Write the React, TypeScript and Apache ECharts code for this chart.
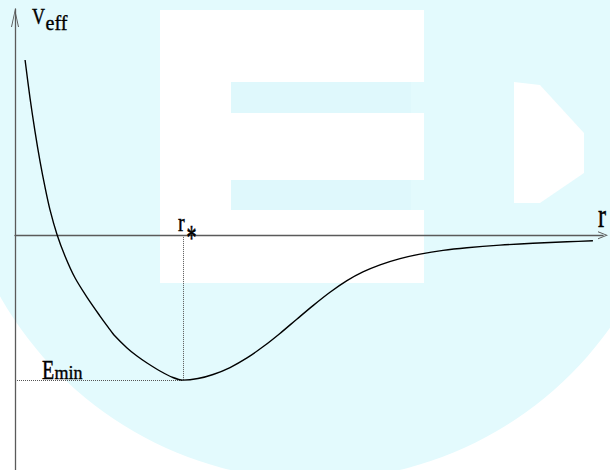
import React, { useEffect, useRef } from "react";
import * as echarts from "echarts";

// Effective potential curve, r in units of r*, V in units of |Emin|
const rValues = [
  0.06, 0.089, 0.119, 0.149, 0.179, 0.208, 0.25, 0.298, 0.357, 0.429, 0.506, 0.554, 0.595, 0.667, 0.726,
  0.786, 0.863, 0.94, 1.0, 1.089, 1.179, 1.28, 1.381, 1.482, 1.577, 1.679, 1.774, 1.875, 1.976, 2.071,
  2.173, 2.292, 2.411, 2.548, 2.69, 2.887, 3.083, 3.286, 3.44,
];
const vValues = [
  1.208, 0.949, 0.716, 0.509, 0.329, 0.176, 0.005, -0.145, -0.294, -0.429, -0.558, -0.634, -0.696, -0.778, -0.834,
  -0.882, -0.937, -0.982, -1.0, -0.989, -0.961, -0.913, -0.847, -0.765, -0.678, -0.578, -0.486, -0.394, -0.314, -0.254,
  -0.205, -0.162, -0.131, -0.105, -0.087, -0.069, -0.056, -0.046, -0.039,
];
const rStar = 1;
const eMin = -1;
const xMax = 3.5;
const yMin = -1.62;
const yMax = 1.56;

const FAMILY = "Liberation Serif";
const AXIS_COLOR = "#5a5a5a";
const CYAN = "#e3fafd";
const CYAN_BAR = "#dff8fc";

export default function App() {
  const ref = useRef<HTMLDivElement>(null);

  useEffect(() => {
    if (!ref.current) return;
    const chart = echarts.init(ref.current, null, { renderer: "svg" });
    const data = rValues.map((r, i) => [r, vValues[i]]);

    const txt = (text: string, x: number, y: number, size: number, scaleY: number) => ({
      type: "text",
      x,
      y,
      scaleY,
      silent: true,
      z: 50,
      style: {
        text,
        fontSize: size,
        fontFamily: FAMILY,
        fill: "#000",
        stroke: "#000",
        lineWidth: 0.35,
      },
    });

    chart.setOption({
      animation: false,
      backgroundColor: "#ffffff",
      textStyle: { fontFamily: FAMILY },
      grid: { left: 15, right: 7, top: 9, bottom: 0, containLabel: false },
      xAxis: {
        type: "value",
        min: 0,
        max: xMax,
        axisLine: {
          show: true,
          onZero: true,
          lineStyle: { color: AXIS_COLOR, width: 1.3 },
          symbol: ["none", "path://M0,10 L4,0 L8,10 L7,10 L4,2.2 L1,10 Z"],
          symbolSize: [8, 10],
          symbolOffset: [0, 0],
        },
        axisTick: { show: false },
        axisLabel: { show: false },
        splitLine: { show: false },
      },
      yAxis: {
        type: "value",
        min: yMin,
        max: yMax,
        axisLine: {
          show: true,
          onZero: false,
          lineStyle: { color: AXIS_COLOR, width: 1.3 },
          symbol: ["none", "path://M0,18 L4,0 L8,18 L7,18 L4,3.5 L1,18 Z"],
          symbolSize: [8, 18],
          symbolOffset: [0, -9],
        },
        axisTick: { show: false },
        axisLabel: { show: false },
        splitLine: { show: false },
      },
      graphic: [
        {
          type: "group",
          silent: true,
          z: -10,
          children: [
            { type: "circle", z: -10, shape: { cx: 315, cy: 118, r: 362 }, style: { fill: CYAN } },
            { type: "rect", z: -9, shape: { x: 160, y: 10, width: 264, height: 72 }, style: { fill: "#fff" } },
            { type: "rect", z: -9, shape: { x: 160, y: 82, width: 71, height: 201 }, style: { fill: "#fff" } },
            { type: "rect", z: -9, shape: { x: 160, y: 113, width: 264, height: 67 }, style: { fill: "#fff" } },
            { type: "rect", z: -9, shape: { x: 160, y: 210, width: 264, height: 73 }, style: { fill: "#fff" } },
            { type: "rect", z: -9, shape: { x: 231, y: 82, width: 180, height: 31 }, style: { fill: CYAN_BAR } },
            { type: "rect", z: -9, shape: { x: 231, y: 180, width: 180, height: 30 }, style: { fill: CYAN_BAR } },
            {
              type: "polygon",
              z: -9,
              shape: { points: [[514, 82], [540, 85], [584, 133], [584, 173], [540, 203], [514, 203]] },
              style: { fill: "#fff" },
            },
          ],
        },
        txt("V", 32, 5.3, 18, 1.26),
        txt("eff", 45.5, 13.4, 20, 1.0),
        txt("r", 598, 198.4, 24, 1.4),
        txt("r", 178, 210, 20, 1.25),
        txt("*", 186.5, 219.3, 20, 1.8),
        txt("E", 42, 355.7, 20, 1.38),
        txt("min", 54.5, 364.2, 18, 1.0),
      ],
      series: [
        {
          type: "line",
          data,
          smooth: 0.3,
          showSymbol: false,
          symbol: "none",
          z: 5,
          lineStyle: { color: "#000", width: 1.4 },
          markLine: {
            silent: true,
            symbol: ["none", "none"],
            label: { show: false },
            lineStyle: { type: "dotted", color: "#555", width: 1 },
            data: [
              [{ coord: [0, eMin] }, { coord: [rStar, eMin] }],
              [{ coord: [rStar, eMin] }, { coord: [rStar, 0] }],
            ],
          },
        },
      ],
    });

    return () => chart.dispose();
  }, []);

  return (
    <div
      ref={ref}
      style={{ position: "fixed", left: 0, top: 0, width: 610, height: 470, background: "#fff" }}
    />
  );
}
